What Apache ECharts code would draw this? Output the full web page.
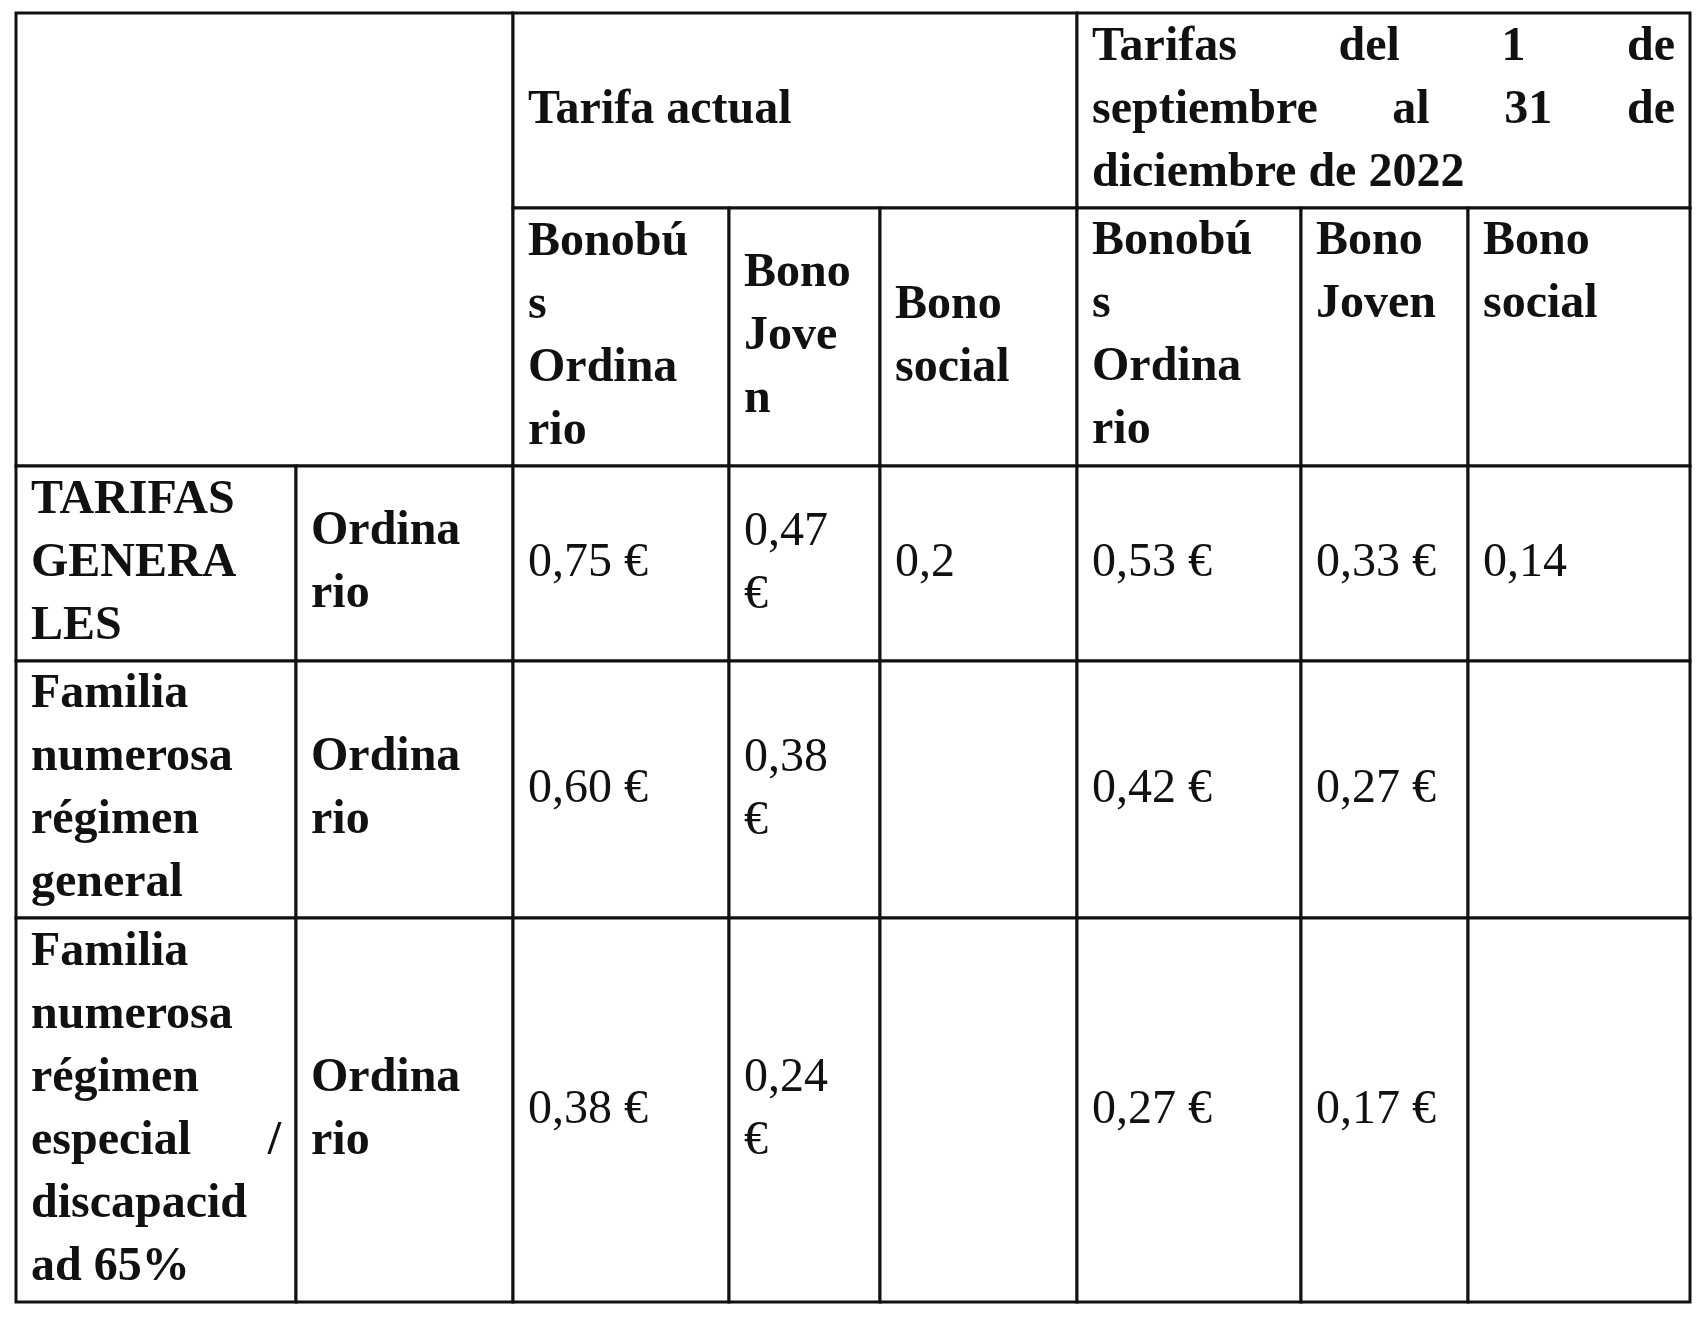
<!DOCTYPE html>
<html><head><meta charset="utf-8">
<script src="https://cdn.jsdelivr.net/npm/echarts@6/dist/echarts.min.js"></script>
<style>html,body{margin:0;background:#fff}#c{width:1706px;height:1325px}</style>
</head><body><div id="c"></div>
<script>
// column and row boundaries of the table (pixels)
var colEdges = [16, 296, 513, 729, 880, 1077, 1301, 1468, 1690];
var rowEdges = [13, 208, 466, 661, 918, 1302];

var groupHeaders = ["Tarifa actual", "Tarifas del 1 de\nseptiembre al 31 de\ndiciembre de 2022"];
var subHeaders = ["Bonobú\ns\nOrdina\nrio", "Bono\nJove\nn", "Bono\nsocial",
                  "Bonobú\ns\nOrdina\nrio", "Bono\nJoven", "Bono\nsocial"];
var rowLabels = ["TARIFAS\nGENERA\nLES", "Familia\nnumerosa\nrégimen\ngeneral",
                 "Familia\nnumerosa\nrégimen\nespecial /\ndiscapacid\nad 65%"];
var rowTypes = ["Ordina\nrio", "Ordina\nrio", "Ordina\nrio"];
var values = [
  ["0,75 €", "0,47\n€", "0,2", "0,53 €", "0,33 €", "0,14"],
  ["0,60 €", "0,38\n€", "", "0,42 €", "0,27 €", ""],
  ["0,38 €", "0,24\n€", "", "0,27 €", "0,17 €", ""]
];

// cells: [col0, col1, row0, row1, text, bold, valign, justify]
var cells = [];
cells.push([0, 2, 0, 2, "", true, "middle", false]);
cells.push([2, 5, 0, 1, groupHeaders[0], true, "middle", false]);
cells.push([5, 8, 0, 1, groupHeaders[1], true, "middle", true]);
subHeaders.forEach(function (t, i) {
  cells.push([2 + i, 3 + i, 1, 2, t, true, i >= 3 ? "top" : "middle", false]);
});
rowLabels.forEach(function (t, r) {
  cells.push([0, 1, 2 + r, 3 + r, t, true, "middle", true]);
  cells.push([1, 2, 2 + r, 3 + r, rowTypes[r], true, "middle", false]);
  values[r].forEach(function (v, i) {
    cells.push([2 + i, 3 + i, 2 + r, 3 + r, v, false, "middle", false]);
  });
});

var FONT = '"Liberation Serif", "DejaVu Serif", serif';
var FS = 48, LH = 63;
var ctx = document.createElement('canvas').getContext('2d');

function renderItem(params, api) {
  var c = cells[params.dataIndex];
  var p0 = api.coord([colEdges[c[0]], rowEdges[c[2]]]);
  var p1 = api.coord([colEdges[c[1]], rowEdges[c[3]]]);
  var x = p0[0], y = p0[1], w = p1[0] - p0[0], h = p1[1] - p0[1];
  var children = [{
    type: 'rect', shape: {x: x, y: y, width: w, height: h},
    style: {fill: '#fff', stroke: '#111', lineWidth: 3}
  }];
  var lines = c[4] ? c[4].split('\n') : [];
  var blockH = lines.length * LH;
  var top = c[6] === 'top' ? y + 2 : y + (h - blockH) / 2;
  var font = (c[5] ? 'bold ' : '') + FS + 'px ' + FONT;
  ctx.font = font;
  lines.forEach(function (ln, k) {
    var ty = top + k * LH + LH / 2;
    var words = ln.split(' ');
    if (c[7] && k < lines.length - 1 && words.length > 1) {
      var avail = w - 30, tot = 0;
      var widths = words.map(function (wd) { var m = ctx.measureText(wd).width; tot += m; return m; });
      var gap = (avail - tot) / (words.length - 1), cx = x + 15;
      words.forEach(function (wd, j) {
        children.push({type: 'text', style: {x: cx, y: ty, text: wd, font: font, fill: '#111',
          verticalAlign: 'middle', align: 'left'}});
        cx += widths[j] + gap;
      });
    } else {
      children.push({type: 'text', style: {x: x + 15, y: ty, text: ln,
        font: font, fill: '#111', verticalAlign: 'middle', align: 'left'}});
    }
  });
  return {type: 'group', children: children};
}

var chart = echarts.init(document.getElementById('c'));
chart.setOption({
  animation: false,
  backgroundColor: '#fff',
  grid: {left: 0, right: 0, top: 0, bottom: 0},
  xAxis: {type: 'value', min: 0, max: 1706, show: false},
  yAxis: {type: 'value', min: 0, max: 1325, inverse: true, show: false},
  series: [{
    type: 'custom', renderItem: renderItem,
    data: cells.map(function (c, i) { return [colEdges[c[0]], rowEdges[c[2]], i]; })
  }]
});
</script></body></html>
